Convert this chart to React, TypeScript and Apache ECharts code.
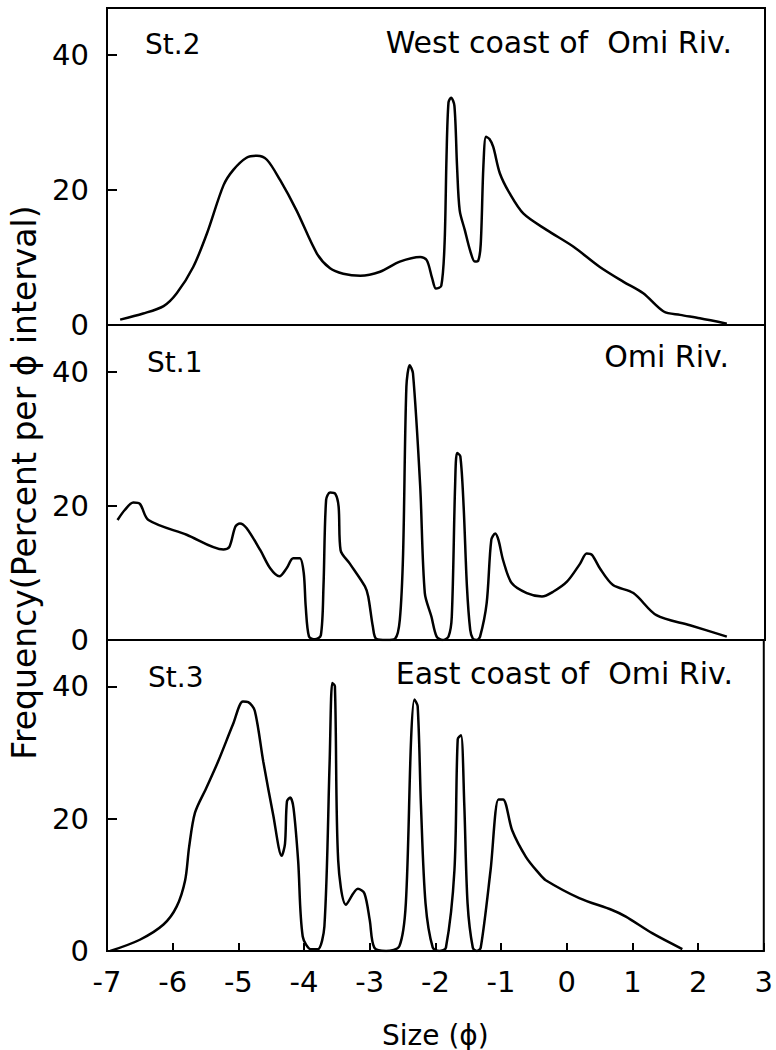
import React, { useEffect, useRef } from "react";
import * as echarts from "echarts";

// St.2 (West coast of Omi Riv.)
const st2Phi = [-6.8, -6.45, -6.14, -5.94, -5.69, -5.48, -5.23, -5.08, -4.88, -4.72, -4.57, -4.37, -4.12, -3.81, -3.61, -3.41, -3.15, -2.85, -2.55, -2.24, -2.14, -2.06, -2.0, -1.92, -1.87, -1.84, -1.81, -1.77, -1.72, -1.68, -1.64, -1.56, -1.48, -1.41, -1.36, -1.32, -1.28, -1.24, -1.19, -1.13, -1.03, -0.88, -0.67, -0.32, 0.09, 0.49, 0.85, 1.15, 1.46, 1.71, 2.01, 2.42];
const st2Freq = [0.8, 1.7, 2.8, 4.7, 8.6, 13.6, 20.7, 23, 24.8, 25.1, 24.5, 21.5, 17, 10.6, 8.4, 7.6, 7.3, 7.9, 9.4, 10.1, 9.6, 7.0, 5.4, 5.8, 12, 25, 33, 33.7, 32.5, 23.5, 17, 14, 11, 9.4, 9.5, 12, 23.5, 27.9, 27.6, 26.4, 22.5, 19.5, 16.5, 14.1, 11.6, 8.6, 6.4, 4.7, 2.0, 1.5, 1.0, 0.2];

// St.1 (Omi Riv.)
const st1Phi = [-6.84, -6.73, -6.6, -6.5, -6.37, -5.79, -5.23, -5.14, -5.05, -4.98, -4.88, -4.67, -4.52, -4.38, -4.27, -4.17, -4.07, -4.01, -3.98, -3.93, -3.84, -3.75, -3.71, -3.67, -3.61, -3.53, -3.48, -3.45, -3.31, -3.08, -3.03, -2.96, -2.91, -2.75, -2.62, -2.55, -2.5, -2.45, -2.4, -2.35, -2.24, -2.17, -2.07, -1.99, -1.9, -1.81, -1.76, -1.71, -1.68, -1.63, -1.58, -1.53, -1.48, -1.44, -1.38, -1.33, -1.23, -1.16, -1.1, -1.05, -0.98, -0.85, -0.62, -0.39, -0.22, -0.01, 0.19, 0.29, 0.37, 0.49, 0.69, 1.0, 1.35, 1.86, 2.42];
const st1Freq = [17.9, 19.4, 20.5, 20.3, 17.9, 15.7, 13.5, 13.9, 16.9, 17.4, 16.7, 13.4, 10.7, 9.5, 10.7, 12.2, 12.2, 10, 5, 0.5, 0.1, 0.7, 8, 20.9, 22, 21.8, 19.9, 13.4, 11.4, 8, 6.5, 2, 0.2, 0, 0.2, 3, 12.9, 37.8, 41, 39.8, 22.9, 7, 3.5, 0.5, 0, 0.5, 3.5, 22.9, 27.9, 27.4, 19.9, 8, 1.5, 0.2, 0, 0.5, 5.5, 14.9, 15.9, 14.9, 11.9, 8.5, 7, 6.5, 7.2, 8.7, 11.4, 12.9, 12.7, 10.7, 8.2, 7, 3.7, 2.2, 0.5];

// St.3 (East coast of Omi Riv.)
const st3Phi = [-6.95, -6.5, -6.14, -5.94, -5.81, -5.75, -5.66, -5.49, -5.31, -5.08, -4.93, -4.85, -4.75, -4.62, -4.47, -4.34, -4.29, -4.26, -4.21, -4.16, -4.09, -4.02, -3.89, -3.79, -3.69, -3.61, -3.57, -3.53, -3.48, -3.36, -3.18, -3.08, -3.0, -2.93, -2.75, -2.55, -2.45, -2.37, -2.32, -2.27, -2.22, -2.15, -2.04, -1.94, -1.84, -1.71, -1.66, -1.61, -1.56, -1.51, -1.43, -1.37, -1.31, -1.16, -1.04, -0.97, -0.83, -0.62, -0.42, -0.32, 0.19, 0.69, 0.9, 1.3, 1.76];
const st3Freq = [0, 1.7, 4, 6.7, 10.7, 15.7, 20.9, 24.6, 28.6, 34.3, 37.7, 37.6, 36.3, 28.6, 20.6, 14.4, 16.2, 22.6, 23.2, 21.6, 13.7, 2.2, 0.25, 0.25, 3.7, 28.6, 40.5, 40, 13.7, 7, 9.4, 8.7, 4.7, 0.5, 0, 0.7, 7.2, 32, 38, 37, 22.1, 7.2, 0.5, 0, 0.5, 12.2, 32, 32.6, 22.1, 7.2, 0.5, 0, 0.5, 12.2, 22.9, 22.9, 18.2, 14.2, 11.7, 10.7, 8, 6.2, 5.2, 2.7, 0.3];

const xTicks = [-7, -6, -5, -4, -3, -2, -1, 0, 1, 2, 3];
const yTicks = [0, 20, 40];

const stationLabels = ["St.2", "St.1", "St.3"];
const siteLabels = ["West coast of  Omi Riv.", "Omi Riv.", "East coast of  Omi Riv."];

const FONT = "DejaVu Sans";

export default function App() {
  const ref = useRef<HTMLDivElement>(null);
  useEffect(() => {
    if (!ref.current) return;
    const chart = echarts.init(ref.current, undefined, { renderer: "svg" });
    const tops = [8, 325, 640];
    const heights = [317, 315, 315];
    const datasets = [
      st2Phi.map((x, i) => [x, st2Freq[i]]),
      st1Phi.map((x, i) => [x, st1Freq[i]]),
      st3Phi.map((x, i) => [x, st3Freq[i]]),
    ];
    const stationPos = [[145, 44], [147, 362], [148, 677]];
    const sitePos = [[732, 42], [729, 356], [733, 673]];
    const option: any = {
      animation: false,
      backgroundColor: "#fff",
      grid: tops.map((t, i) => ({
        left: 107,
        right: 11,
        top: t,
        height: heights[i],
        show: true,
        borderColor: "#000",
        borderWidth: 2,
        backgroundColor: "transparent",
      })),
      xAxis: [0, 1, 2].map((i) => ({
        type: "value",
        gridIndex: i,
        min: xTicks[0],
        max: xTicks[xTicks.length - 1],
        interval: 1,
        axisLine: { show: true, onZero: false, lineStyle: { color: "#000", width: 2 } },
        axisTick: { show: i === 2, inside: true, length: 8, lineStyle: { color: "#000", width: 2 } },
        axisLabel: {
          show: i === 2,
          color: "#000",
          fontFamily: FONT,
          fontSize: 29,
          margin: 16,
          formatter: (v: number) => (xTicks.includes(v) ? String(v) : ""),
        },
        splitLine: { show: false },
        name: i === 2 ? "Size (ϕ)" : "",
        nameLocation: "middle",
        nameGap: 70,
        nameTextStyle: { color: "#000", fontFamily: FONT, fontSize: 28 },
      })),
      yAxis: [0, 1, 2].map((i) => ({
        type: "value",
        gridIndex: i,
        min: 0,
        max: 47,
        interval: 20,
        axisLine: { show: true, onZero: false, lineStyle: { color: "#000", width: 2 } },
        axisTick: { show: true, inside: true, length: 10, lineStyle: { color: "#000", width: 2 } },
        axisLabel: {
          color: "#000",
          fontFamily: FONT,
          fontSize: 29,
          margin: 18,
          showMaxLabel: false,
          formatter: (v: number) => (yTicks.includes(v) ? String(v) : ""),
        },
        splitLine: { show: false },
        name: i === 1 ? "Frequency(Percent per ϕ interval)" : "",
        nameLocation: "middle",
        nameRotate: 90,
        nameGap: 62,
        nameTextStyle: { color: "#000", fontFamily: FONT, fontSize: 33 },
      })),
      series: datasets.map((d, i) => ({
        type: "line",
        xAxisIndex: i,
        yAxisIndex: i,
        data: d,
        showSymbol: false,
        smooth: 0.3,
        lineStyle: { color: "#000", width: 2.5 },
      })),
      graphic: [
        ...stationLabels.map((s, i) => ({
          type: "text",
          x: stationPos[i][0],
          y: stationPos[i][1],
          style: { text: s, fill: "#000", font: `28px ${FONT}`, textAlign: "left", textVerticalAlign: "middle" },
        })),
        ...siteLabels.map((s, i) => ({
          type: "text",
          x: sitePos[i][0],
          y: sitePos[i][1],
          style: { text: s, fill: "#000", font: `30px ${FONT}`, textAlign: "right", textVerticalAlign: "middle" },
        })),
      ],
    };
    chart.setOption(option);
    return () => chart.dispose();
  }, []);
  return (
    <div
      ref={ref}
      style={{ position: "fixed", left: 0, top: 0, width: 776, height: 1050, background: "#fff" }}
    />
  );
}
